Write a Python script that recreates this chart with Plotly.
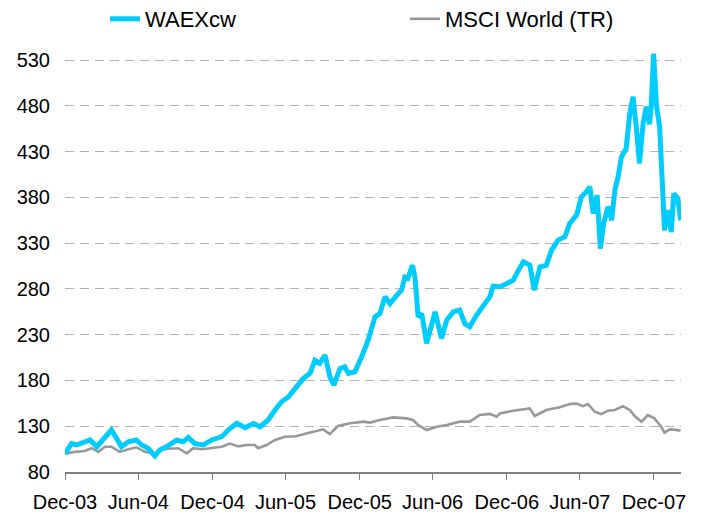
import plotly.graph_objects as go

waex_dates = [
    "2003-12-31", "2004-01-16", "2004-01-29", "2004-02-10", "2004-03-02", "2004-03-19",
    "2004-04-08", "2004-04-24", "2004-05-07", "2004-05-19", "2004-06-05", "2004-06-25",
    "2004-07-08", "2004-07-24", "2004-08-10", "2004-08-22", "2004-09-08", "2004-10-03",
    "2004-10-19", "2004-11-01", "2004-11-17", "2004-12-08", "2004-12-29", "2005-01-23",
    "2005-02-08", "2005-03-01", "2005-03-22", "2005-04-11", "2005-04-28", "2005-05-18",
    "2005-06-04", "2005-06-21", "2005-07-07", "2005-07-28", "2005-08-13", "2005-08-30",
    "2005-09-11", "2005-09-23", "2005-10-06", "2005-10-18", "2005-10-28", "2005-11-12",
    "2005-11-24", "2005-12-03", "2005-12-19", "2006-01-05", "2006-01-21", "2006-02-07",
    "2006-02-19", "2006-03-04", "2006-03-16", "2006-04-02", "2006-04-14", "2006-04-22",
    "2006-04-30", "2006-05-11", "2006-05-17", "2006-05-25", "2006-06-03", "2006-06-15",
    "2006-06-23", "2006-07-06", "2006-07-22", "2006-08-04", "2006-08-20", "2006-09-05",
    "2006-09-18", "2006-09-30", "2006-10-17", "2006-11-02", "2006-11-19", "2006-11-27",
    "2006-12-14", "2006-12-31", "2007-01-16", "2007-01-29", "2007-02-10", "2007-02-26",
    "2007-03-09", "2007-03-23", "2007-04-08", "2007-04-21", "2007-05-07", "2007-05-24",
    "2007-06-05", "2007-06-22", "2007-07-04", "2007-07-16", "2007-07-25", "2007-08-02",
    "2007-08-12", "2007-08-20", "2007-08-28", "2007-09-08", "2007-09-17", "2007-09-25",
    "2007-10-03", "2007-10-11", "2007-10-23", "2007-11-01", "2007-11-09", "2007-11-17",
    "2007-11-25", "2007-12-04", "2007-12-12", "2007-12-20", "2007-12-24", "2007-12-30",
    "2008-01-06", "2008-01-14", "2008-01-16", "2008-01-22", "2008-01-26", "2008-02-03",
    "2008-02-12", "2008-02-18", "2008-02-28", "2008-03-06",
]
waex_values = [
    100, 111, 109.5, 111, 115, 107.6,
    118.6, 125.9, 116.8, 107.6, 113, 115,
    109.5, 105.9, 97.5, 104, 107.6, 115,
    113, 117.9, 111, 109.5, 115, 118.6,
    125.9, 133.2, 128.4, 133, 129.5, 136.8,
    147.7, 157, 162, 173, 182, 188,
    202, 198.7, 207.8, 184, 175, 193,
    195, 187.8, 189.5, 206, 224, 249.6,
    253, 271.5, 264, 273, 278.8, 293,
    292, 306, 293, 249.6, 253, 220.5,
    235, 255, 226, 246, 255, 257,
    242, 238.7, 251.5, 262.4, 271.5, 283,
    282.4, 286, 289.7, 300.6, 309.7, 306,
    278.8, 304, 306, 322.5, 333.4, 337,
    351.6, 360.7, 380.7, 386, 391.6, 362.5,
    382.5, 324, 351.6, 369.8, 355, 388,
    402.5, 424, 433.5, 471.8, 490, 457,
    417, 461, 479, 460, 479, 537,
    481, 457, 431, 384, 344, 366,
    342, 384, 379, 355,
]

msci_dates = [
    "2003-12-31", "2004-01-24", "2004-02-18", "2004-03-06", "2004-03-23", "2004-04-08",
    "2004-04-24", "2004-05-15", "2004-06-05", "2004-06-25", "2004-07-16", "2004-08-10",
    "2004-08-26", "2004-09-20", "2004-10-07", "2004-10-28", "2004-11-13", "2004-12-04",
    "2004-12-29", "2005-01-23", "2005-02-12", "2005-03-05", "2005-03-26", "2005-04-15",
    "2005-04-23", "2005-05-14", "2005-06-04", "2005-06-29", "2005-07-25", "2005-08-13",
    "2005-09-07", "2005-10-01", "2005-10-18", "2005-11-07", "2005-12-07", "2006-01-09",
    "2006-01-26", "2006-02-19", "2006-03-24", "2006-04-26", "2006-05-12", "2006-05-25",
    "2006-06-15", "2006-07-10", "2006-08-04", "2006-09-05", "2006-09-30", "2006-10-25",
    "2006-11-19", "2006-12-06", "2006-12-14", "2007-01-16", "2007-02-26", "2007-03-10",
    "2007-04-08", "2007-05-11", "2007-06-05", "2007-06-22", "2007-07-08", "2007-07-20",
    "2007-08-06", "2007-08-22", "2007-09-08", "2007-09-25", "2007-10-15", "2007-11-01",
    "2007-11-13", "2007-11-30", "2007-12-16", "2008-01-01", "2008-01-18", "2008-01-26",
    "2008-02-08", "2008-02-24", "2008-03-06",
]
msci_values = [
    100, 102, 103, 106, 102, 107.6,
    107.6, 102, 104.8, 107, 102, 99.7,
    104.8, 106, 106, 100.4, 106, 104.8,
    106, 107.6, 111, 108, 109.5, 109.5,
    106, 109.5, 115, 118.6, 119, 121.5,
    124, 126.6, 121.5, 130.2, 133.2, 135,
    134, 136.8, 139.7, 138.6, 136.8, 131.3,
    125.9, 129.5, 131.3, 135, 135, 142.3,
    143.5, 140.5, 144, 147, 149.5, 141.2,
    147.7, 150.7, 154.3, 154.9, 152, 154.3,
    145.9, 143.3, 147, 147.7, 152, 147.7,
    141.2, 135, 142.3, 138.6, 129.5, 123,
    126.6, 126, 125,
]

tick_dates = ["2003-12-31", "2004-06-30", "2004-12-31", "2005-06-30", "2005-12-31",
              "2006-06-30", "2006-12-31", "2007-06-30", "2007-12-31"]
tick_labels = ["Dec-03", "Jun-04", "Dec-04", "Jun-05", "Dec-05",
               "Jun-06", "Dec-06", "Jun-07", "Dec-07"]
y_ticks = [80, 130, 180, 230, 280, 330, 380, 430, 480, 530]

fig = go.Figure()
fig.add_trace(go.Scatter(x=msci_dates, y=msci_values, mode="lines", name="MSCI World (TR)",
                         line=dict(color="#999999", width=2.6), legend="legend2"))
fig.add_trace(go.Scatter(x=waex_dates, y=waex_values, mode="lines", name="WAEXcw",
                         line=dict(color="#00CCFF", width=5), legend="legend"))

font_family = "Liberation Sans, Arial, sans-serif"
fig.update_layout(
    width=703, height=513,
    margin=dict(l=65, r=22, t=51, b=41, autoexpand=False),
    paper_bgcolor="white", plot_bgcolor="white",
    font=dict(family=font_family, color="black", size=20),
    showlegend=True,
    legend=dict(orientation="h", x=0.065, xanchor="left", y=1.076, yanchor="middle",
                font=dict(size=22, family=font_family), bgcolor="rgba(0,0,0,0)"),
    legend2=dict(orientation="h", x=0.552, xanchor="left", y=1.076, yanchor="middle",
                 font=dict(size=22, family=font_family), bgcolor="rgba(0,0,0,0)"),
    xaxis=dict(type="date", range=["2003-12-31", "2008-03-07"],
               tickvals=tick_dates, ticktext=tick_labels,
               showgrid=False, showline=True, linecolor="#808080", linewidth=1.5,
               ticks="outside", ticklen=6, tickcolor="#808080", tickwidth=1.2,
               ticklabelstandoff=5, tickfont=dict(size=20), zeroline=False),
    yaxis=dict(range=[80, 540], tickvals=y_ticks, ticktext=[str(v) for v in y_ticks],
               showgrid=True, gridcolor="#b3b3b3", gridwidth=1, griddash="9px,6px",
               showline=False, zeroline=False,
               ticks="outside", ticklen=10, tickcolor="rgba(0,0,0,0)",
               tickfont=dict(size=20)),
)

fig.write_html("out.html", config={"displayModeBar": False},
               post_script="document.body.style.margin='0';document.body.style.overflow='hidden';")
